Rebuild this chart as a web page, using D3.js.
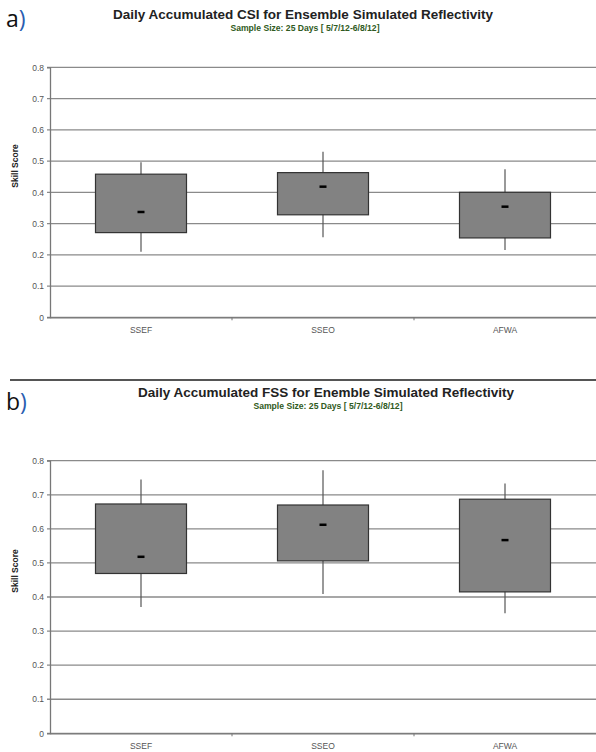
<!DOCTYPE html>
<html>
<head>
<meta charset="utf-8">
<script src="https://cdn.jsdelivr.net/npm/d3@7"></script>
<style>
body { margin: 0; background: #fff; }
svg text { font-family: "Liberation Sans", Arial, sans-serif; }
</style>
</head>
<body>
<div id="chart"></div>
<script>
var categories = ["SSEF", "SSEO", "AFWA"];
var yTicks = [0, 0.1, 0.2, 0.3, 0.4, 0.5, 0.6, 0.7, 0.8];

// panel a) CSI
var csi_low = [0.21, 0.256, 0.215];
var csi_q1 = [0.271, 0.328, 0.254];
var csi_med = [0.337, 0.418, 0.354];
var csi_q3 = [0.458, 0.463, 0.40];
var csi_high = [0.496, 0.53, 0.474];

// panel b) FSS
var fss_low = [0.371, 0.409, 0.352];
var fss_q1 = [0.469, 0.506, 0.415];
var fss_med = [0.518, 0.612, 0.567];
var fss_q3 = [0.673, 0.670, 0.687];
var fss_high = [0.745, 0.772, 0.733];

var svg = d3.select("#chart").append("svg").attr("width", 596).attr("height", 752);

function draw_panel(opt) {
    var x = d3.scaleBand().domain(categories).range([50, 596]);
    var y = d3.scaleLinear().domain([0, 0.8]).range([opt.bottom, opt.top]);
    var g = svg.append("g");

    // letter + titles
    var lab = g.append("text").attr("x", 6).attr("y", opt.letterY)
            .style("font-size", "23px").style("font-family", "'Open Sans', sans-serif");
    lab.append("tspan").attr("fill", "#111").text(opt.letter);
    lab.append("tspan").attr("fill", "#2a5db0").text(")");
    g.append("text").attr("x", opt.titleX).attr("y", opt.titleY)
            .attr("text-anchor", "middle").style("font-size", "13.5px").style("font-weight", "bold")
            .attr("fill", "#222").text(opt.title);
    g.append("text").attr("x", opt.titleX + 2).attr("y", opt.titleY + 12)
            .attr("text-anchor", "middle").style("font-size", "8.6px").style("font-weight", "bold")
            .attr("fill", "#2f5a22").text("Sample Size: 25 Days [ 5/7/12-6/8/12]");

    // grid lines
    g.selectAll(".grid").data(yTicks).enter().append("line")
            .attr("x1", 47).attr("x2", 596)
            .attr("y1", function (d) { return y(d); })
            .attr("y2", function (d) { return y(d); })
            .attr("stroke", "#8a8a8a").attr("stroke-width", 1.3);

    var yAxis = g.append("g").attr("transform", "translate(50,0)")
            .call(d3.axisLeft(y).tickValues(yTicks).tickSize(3).tickFormat(function (d) { return d === 0 ? "0" : d3.format(".1f")(d); }));
    yAxis.select(".domain").attr("stroke", "#777").attr("stroke-width", 1.3);
    yAxis.selectAll(".tick line").remove();
    yAxis.selectAll("text").attr("fill", "#555").style("font-size", "8.5px").attr("x", -6);

    var xAxis = g.append("g").attr("transform", "translate(0," + opt.bottom + ")")
            .call(d3.axisBottom(x).tickSize(0).tickPadding(10));
    xAxis.select(".domain").attr("stroke", "#777").attr("stroke-width", 1.3);
    xAxis.selectAll("text").attr("fill", "#555").style("font-size", "8.5px");
    // separators between categories
    g.selectAll(".sep").data(categories.slice(1)).enter().append("line")
            .attr("x1", function (d) { return x(d); }).attr("x2", function (d) { return x(d); })
            .attr("y1", opt.bottom).attr("y2", opt.bottom + 3)
            .attr("stroke", "#777");

    g.append("text").attr("transform", "translate(18," + opt.labelY + ") rotate(-90)")
            .attr("text-anchor", "middle").style("font-size", "8.5px").style("font-weight", "bold")
            .attr("fill", "#222").text("Skill Score");

    var bw = x.bandwidth() / 2;
    var cx = function (i) { return x(categories[i]) + x.bandwidth() / 2; };

    categories.forEach(function (c, i) {
        g.append("line").attr("x1", cx(i)).attr("x2", cx(i))
                .attr("y1", y(opt.high[i])).attr("y2", y(opt.low[i]))
                .attr("stroke", "#555").attr("stroke-width", 1.2);
        g.append("rect").attr("x", cx(i) - bw / 2).attr("width", bw)
                .attr("y", y(opt.q3[i])).attr("height", y(opt.q1[i]) - y(opt.q3[i]))
                .attr("fill", "#828282").attr("stroke", "#333").attr("stroke-width", 1.2);
        g.append("line").attr("x1", cx(i) - 3.5).attr("x2", cx(i) + 3.5)
                .attr("y1", y(opt.med[i])).attr("y2", y(opt.med[i]))
                .attr("stroke", "#000").attr("stroke-width", 2.5);
    });
}

draw_panel({
    letter: "a", letterY: 27, title: "Daily Accumulated CSI for Ensemble Simulated Reflectivity",
    titleX: 303, titleY: 19, top: 67.3, bottom: 317.3, labelY: 166,
    low: csi_low, q1: csi_q1, med: csi_med, q3: csi_q3, high: csi_high
});

svg.append("line").attr("x1", 10).attr("x2", 596).attr("y1", 380).attr("y2", 380)
        .attr("stroke", "#555").attr("stroke-width", 2);

draw_panel({
    letter: "b", letterY: 410, title: "Daily Accumulated FSS for Enemble Simulated Reflectivity",
    titleX: 326, titleY: 397, top: 460.7, bottom: 733.3, labelY: 571,
    low: fss_low, q1: fss_q1, med: fss_med, q3: fss_q3, high: fss_high
});
</script>
</body>
</html>
